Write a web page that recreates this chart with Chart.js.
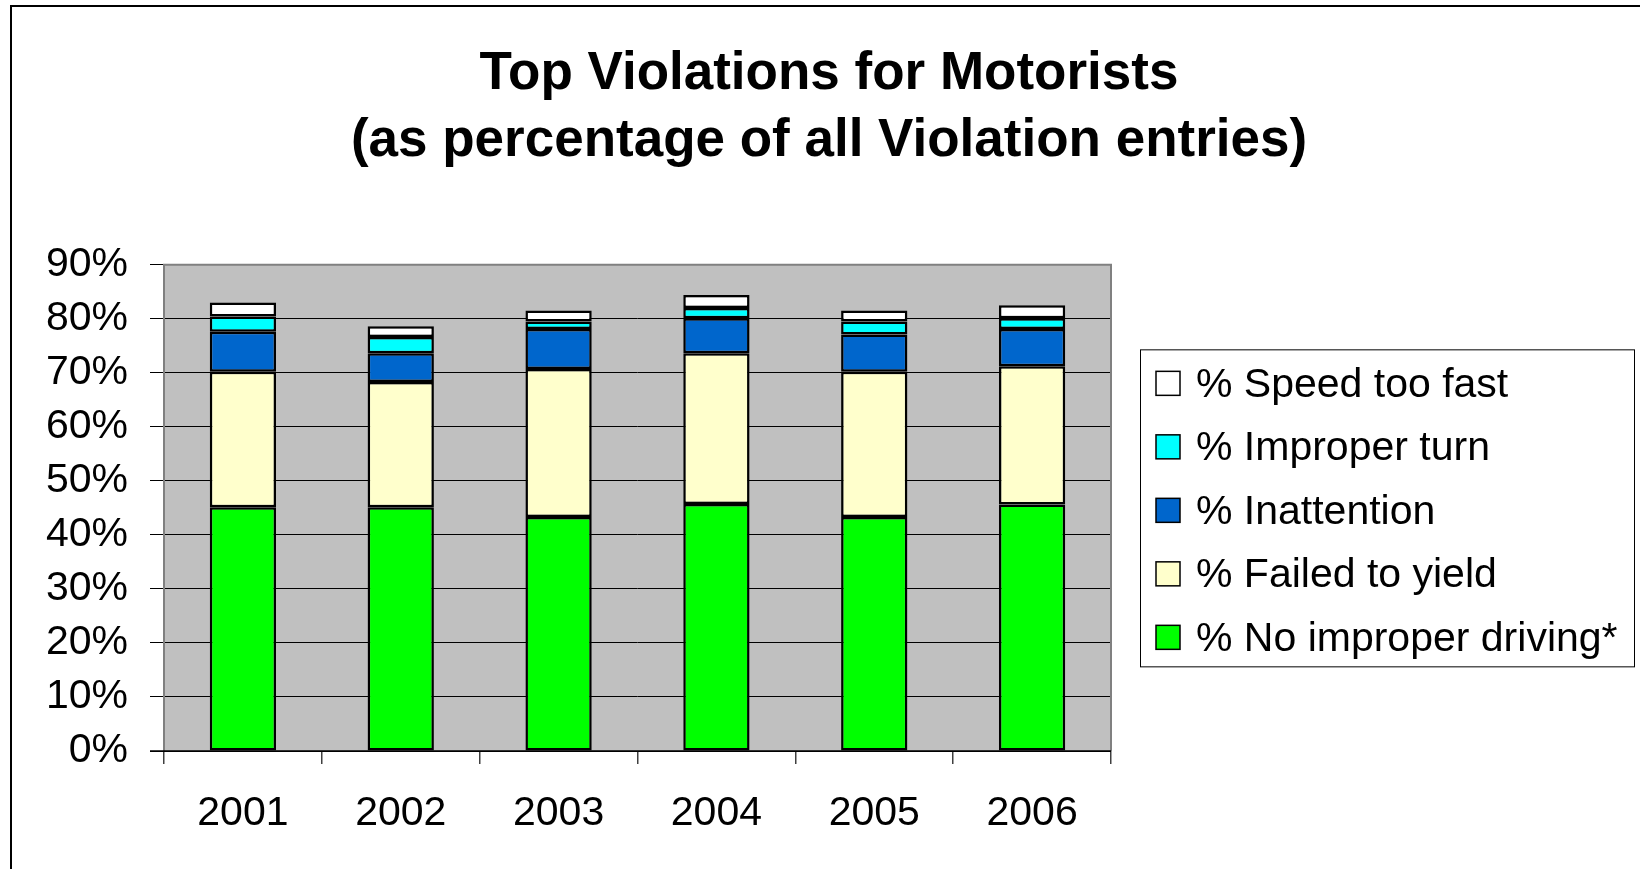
<!DOCTYPE html>
<html>
<head>
<meta charset="utf-8">
<script src="https://cdn.jsdelivr.net/npm/chart.js@4/dist/chart.umd.min.js"></script>
<style>
  html, body { margin: 0; padding: 0; background: #ffffff; }
  canvas { display: block; }
</style>
</head>
<body>
<canvas id="c" width="1640" height="869"></canvas>
<script>
// ---- data (percent of all violation entries) ----
const categories = ['2001', '2002', '2003', '2004', '2005', '2006'];
const noImproperDriving = [45.1, 45.1, 43.3, 45.7, 43.3, 45.6];
const failedToYield     = [25.1, 23.2, 27.4, 27.9, 26.9, 25.6];
const inattention       = [7.4, 5.3, 7.4, 6.5, 6.9, 6.9];
const improperTurn      = [2.8, 3.0, 1.4, 1.9, 2.4, 2.0];
const speedTooFast      = [2.6, 2.0, 2.0, 2.4, 2.0, 2.4];
const seriesNames = ['% No improper driving*', '% Failed to yield', '% Inattention', '% Improper turn', '% Speed too fast'];
const yTicks = [0, 10, 20, 30, 40, 50, 60, 70, 80, 90];
const titleLines = ['Top Violations for Motorists', '(as percentage of all Violation entries)'];

const FONT = '"Liberation Sans", Arial, sans-serif';
const seriesColors = ['#00FF00', '#FFFFCC', '#0066CC', '#00FFFF', '#FFFFFF'];
const seriesData = [noImproperDriving, failedToYield, inattention, improperTurn, speedTooFast];

const datasets = seriesData.map((d, i) => ({
  label: seriesNames[i],
  data: d,
  backgroundColor: seriesColors[i],
  borderColor: '#000000',
  borderWidth: 2.5,
  borderSkipped: false,
  categoryPercentage: 1.0,
  barPercentage: 0.42
}));

const framePlugin = {
  id: 'frame',
  beforeDraw(chart) {
    const ctx = chart.ctx;
    const a = chart.chartArea;
    ctx.save();
    ctx.fillStyle = '#ffffff';
    ctx.fillRect(0, 0, chart.width, chart.height);
    // outer chart border (left and top)
    ctx.strokeStyle = '#000000';
    ctx.lineWidth = 2;
    ctx.beginPath();
    ctx.moveTo(11, chart.height);
    ctx.lineTo(11, 6);
    ctx.lineTo(chart.width, 6);
    ctx.stroke();
    // plot background
    ctx.fillStyle = '#C0C0C0';
    ctx.fillRect(a.left, a.top, a.right - a.left, a.bottom - a.top);
    ctx.restore();
  },
  afterDatasetsDraw(chart) {
    const ctx = chart.ctx;
    const a = chart.chartArea;
    ctx.save();
    ctx.strokeStyle = '#808080';
    ctx.lineWidth = 2;
    ctx.beginPath();
    ctx.moveTo(a.left, a.bottom);
    ctx.lineTo(a.left, a.top);
    ctx.lineTo(a.right, a.top);
    ctx.lineTo(a.right, a.bottom);
    ctx.stroke();
    ctx.strokeStyle = '#000000';
    ctx.lineWidth = 1.5;
    ctx.beginPath();
    ctx.moveTo(a.left - 14, a.bottom);
    ctx.lineTo(a.right, a.bottom);
    ctx.stroke();
    ctx.restore();
  },
  afterDraw(chart) {
    // legend box (reversed order: top series first)
    const ctx = chart.ctx;
    const a = chart.chartArea;
    const bx = a.right + 29, bw = 494, bh = 317;
    const by = (a.top + a.bottom) / 2 - bh / 2 + 0;
    ctx.save();
    ctx.fillStyle = '#ffffff';
    ctx.fillRect(bx, by, bw, bh);
    ctx.strokeStyle = '#000000';
    ctx.lineWidth = 1;
    ctx.strokeRect(bx + 0.5, by + 0.5, bw, bh);
    const ds = chart.data.datasets.slice().reverse();
    const rowH = 63.5;
    const firstY = by + 34;
    ctx.font = '41px ' + FONT;
    ctx.textBaseline = 'alphabetic';
    ctx.textAlign = 'left';
    ds.forEach((d, i) => {
      const cy = firstY + i * rowH;
      ctx.fillStyle = d.backgroundColor;
      ctx.fillRect(bx + 16, cy - 12, 24, 24);
      ctx.strokeStyle = '#000000';
      ctx.lineWidth = 1.5;
      ctx.strokeRect(bx + 16, cy - 12, 24, 24);
      ctx.fillStyle = '#000000';
      ctx.fillText(d.label, bx + 56, cy + 13.5);
    });
    ctx.restore();
  }
};

new Chart(document.getElementById('c'), {
  type: 'bar',
  data: { labels: categories, datasets: datasets },
  options: {
    responsive: false,
    animation: false,
    layout: { padding: { left: 18, right: 0, top: 0, bottom: 0 } },
    plugins: {
      legend: { display: false },
      tooltip: { enabled: false },
      title: {
        display: true,
        text: titleLines,
        color: '#000000',
        font: { family: FONT, size: 53, weight: 'bold', lineHeight: 1.28 },
        padding: { top: 40, bottom: 89 }
      }
    },
    scales: {
      x: {
        stacked: true,
        offset: true,
        afterFit: s => { s.height = 118; },
        grid: { offset: true, drawOnChartArea: false, drawTicks: true, tickLength: 13, color: '#404040', lineWidth: 1.5 },
        border: { display: false },
        ticks: { color: '#000000', padding: 25, font: { family: FONT, size: 41 } }
      },
      y: {
        stacked: true,
        min: 0,
        max: 90,
        afterFit: s => { s.width = 146; },
        afterBuildTicks: s => { s.ticks = yTicks.map(v => ({ value: v })); },
        grid: { color: '#000000', lineWidth: 1, tickLength: 14, drawTicks: true },
        border: { display: false },
        ticks: { color: '#000000', padding: 22, font: { family: FONT, size: 41 }, callback: v => v + '%' }
      },
      yRight: {
        type: 'linear',
        position: 'right',
        display: true,
        afterFit: s => { s.width = 529; },
        grid: { display: false, drawTicks: false },
        border: { display: false },
        ticks: { display: false }
      }
    }
  },
  plugins: [framePlugin]
});
</script>
</body>
</html>
